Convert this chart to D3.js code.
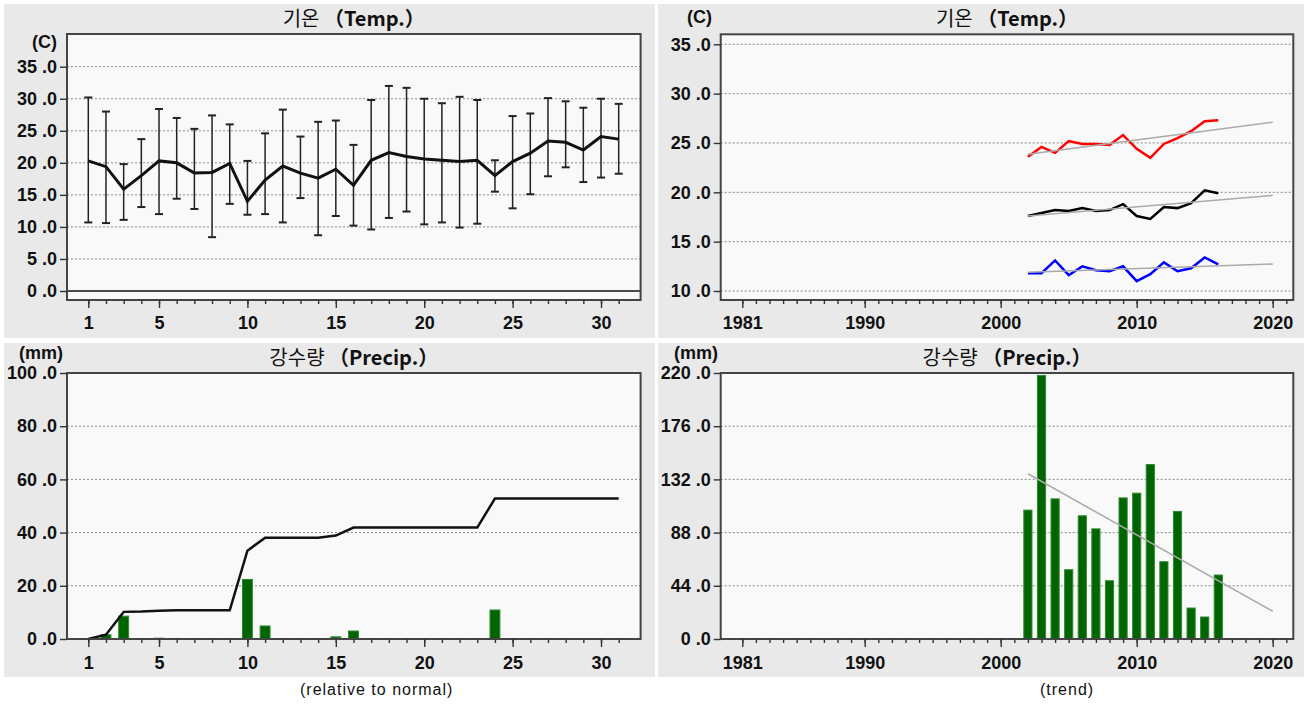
<!DOCTYPE html>
<html>
<head>
<meta charset="utf-8">
<script src="https://cdn.jsdelivr.net/npm/d3@7"></script>
<style>
  body { margin: 0; background: #fff; }
  svg text { font-family: "Liberation Sans", Arial, sans-serif; fill: #111; }
  .tick text { font-weight: bold; font-size: 18px; }
  .tick line { stroke: #333; stroke-width: 1.4; }
</style>
</head>
<body>
<svg width="1308" height="713"></svg>
<script>
// daily values (left panels)
var days = [1,2,3,4,5,6,7,8,9,10,11,12,13,14,15,16,17,18,19,20,21,22,23,24,25,26,27,28,29,30,31];
var tempMean = [20.3,19.4,15.9,18.0,20.3,20.0,18.4,18.5,19.9,14.0,17.3,19.5,18.4,17.6,19.0,16.5,20.4,21.6,21.0,20.6,20.4,20.2,20.4,18.0,20.2,21.5,23.4,23.2,22.0,24.1,23.7];
var tempMax  = [30.2,28.0,19.8,23.7,28.4,27.0,25.3,27.4,26.0,20.3,24.6,28.3,24.1,26.4,26.6,22.8,29.8,32.0,31.7,30.0,29.3,30.3,29.8,20.4,27.3,27.7,30.1,29.6,28.6,30.0,29.2];
var tempMin  = [10.7,10.6,11.1,13.1,12.0,14.4,12.8,8.4,13.6,11.9,12.0,10.7,14.5,8.7,11.7,10.2,9.6,11.4,12.4,10.4,10.7,9.9,10.5,15.5,12.9,15.1,17.9,19.3,17.0,17.7,18.3];
var precipDaily = [0,1.6,8.6,0.1,0.3,0.2,0,0,0,22.4,4.9,0,0,0,0.8,3.0,0,0,0,0,0,0,0,10.9,0,0,0,0,0,0,0];

// yearly values (right panels)
var years = [2002,2003,2004,2005,2006,2007,2008,2009,2010,2011,2012,2013,2014,2015,2016];
var yearMax  = [23.6,24.6,24.0,25.2,24.9,24.9,24.8,25.8,24.4,23.5,24.9,25.5,26.2,27.2,27.3];
var yearMean = [17.6,17.9,18.2,18.1,18.4,18.1,18.2,18.8,17.6,17.3,18.5,18.4,18.9,20.2,19.9];
var yearMin  = [11.8,11.8,13.1,11.6,12.5,12.1,12.0,12.5,11.0,11.7,12.9,12.0,12.3,13.4,12.7];
var yearPrecip = [106.6,218,115.9,57.3,101.9,91.1,48.2,116.7,120.6,144.3,63.9,105.5,25.6,18.2,52.9];

// tick labels
var dayTicks = [1,5,10,15,20,25,30];
var yearTicks = [1981,1990,2000,2010,2020];
var tempTicksL = [0,5,10,15,20,25,30,35];
var tempTicksR = [10,15,20,25,30,35];
var precipTicksL = [0,20,40,60,80,100];
var precipTicksR = [0,44,88,132,176,220];

var svg = d3.select("svg");
var fmt = function(d) { return d3.format(".1f")(d).replace(".", " ."); };

// gray panels
[[4,4],[658,4],[4,343],[658,343]].forEach(function(p) {
    svg.append("rect").attr("x", p[0]).attr("y", p[1])
        .attr("width", p[0] < 100 ? 651 : 646).attr("height", 334)
        .attr("fill", "#e9e9e9");
});

var L = {left: 67, right: 640.6}, R = {left: 720.7, right: 1293.3};
var xDay = d3.scaleLinear().domain([1, 31]).range([88.3, 618.7]);
var xYear = d3.scaleLinear().domain([1981, 2020]).range([742.3, 1272.7]);

function frame(box, top, bottom) {
    svg.append("rect").attr("x", box.left).attr("y", top)
        .attr("width", box.right - box.left).attr("height", bottom - top)
        .attr("fill", "#f9f9f9");
}
function border(box, top, bottom) {
    svg.append("rect").attr("x", box.left).attr("y", top)
        .attr("width", box.right - box.left).attr("height", bottom - top)
        .attr("fill", "none").attr("stroke", "#444").attr("stroke-width", 2);
}
function grid(box, y, vals) {
    svg.append("g").selectAll("line").data(vals).enter().append("line")
        .attr("x1", box.left).attr("x2", box.right)
        .attr("y1", y).attr("y2", y)
        .attr("stroke", "#888").attr("stroke-width", 1)
        .attr("stroke-dasharray", "2,2");
}
function yAxis(box, y, vals) {
    var g = svg.append("g").attr("transform", "translate(" + box.left + ",0)")
        .call(d3.axisLeft(y).tickValues(vals).tickSize(7).tickPadding(3).tickFormat(fmt));
    g.select(".domain").remove();
}
function xAxis(x, bottom, major, minor, pad) {
    var g1 = svg.append("g").attr("transform", "translate(0," + bottom + ")")
        .call(d3.axisBottom(x).tickValues(minor).tickSize(4).tickFormat(""));
    g1.select(".domain").remove();
    var g2 = svg.append("g").attr("transform", "translate(0," + bottom + ")")
        .call(d3.axisBottom(x).tickValues(major).tickSize(8).tickPadding(pad).tickFormat(d3.format("d")));
    g2.select(".domain").remove();
}
function title(box, yb, kor, eng) {
    var t = svg.append("text").attr("x", (box.left + box.right) / 2).attr("y", yb)
        .attr("text-anchor", "middle").style("font-size", "20px")
        .style("font-family", "'Noto Sans CJK KR', sans-serif");
    t.append("tspan").text(kor + " ");
    t.append("tspan").style("font-weight", "bold").text("（" + eng + "）");
}
function unit(xr, yc, s) {
    svg.append("text").attr("x", xr).attr("y", yc).attr("dy", "0.35em")
        .attr("text-anchor", "end").style("font-weight", "bold").style("font-size", "18px")
        .text(s);
}

// ---------- top left: daily temperature ----------
var yTL = d3.scaleLinear().domain([0, 35]).range([291, 66.7]);
frame(L, 34, 300);
grid(L, yTL, [5,10,15,20,25,30,35]);
svg.append("line").attr("x1", L.left).attr("x2", L.right)
    .attr("y1", yTL(0)).attr("y2", yTL(0)).attr("stroke", "#111").attr("stroke-width", 1.5);

var eb = svg.append("g").selectAll("g").data(days).enter().append("g");
eb.append("line")
    .attr("x1", function(d) { return xDay(d); }).attr("x2", function(d) { return xDay(d); })
    .attr("y1", function(d, i) { return yTL(tempMax[i]); })
    .attr("y2", function(d, i) { return yTL(tempMin[i]); })
    .attr("stroke", "#222").attr("stroke-width", 1.5);
eb.append("line")
    .attr("x1", function(d) { return xDay(d) - 4; }).attr("x2", function(d) { return xDay(d) + 4; })
    .attr("y1", function(d, i) { return yTL(tempMax[i]); })
    .attr("y2", function(d, i) { return yTL(tempMax[i]); })
    .attr("stroke", "#222").attr("stroke-width", 2);
eb.append("line")
    .attr("x1", function(d) { return xDay(d) - 4; }).attr("x2", function(d) { return xDay(d) + 4; })
    .attr("y1", function(d, i) { return yTL(tempMin[i]); })
    .attr("y2", function(d, i) { return yTL(tempMin[i]); })
    .attr("stroke", "#222").attr("stroke-width", 2);

svg.append("path").datum(days)
    .attr("d", d3.line().x(function(d) { return xDay(d); })
        .y(function(d, i) { return yTL(tempMean[i]); }))
    .attr("fill", "none").attr("stroke", "#111").attr("stroke-width", 3);
border(L, 34, 300);
yAxis(L, yTL, tempTicksL);
xAxis(xDay, 300, dayTicks, days, 8);
title(L, 26, "기온", "Temp.");
unit(57, 42, "(C)");

// ---------- top right: yearly temperature trend ----------
var yTR = d3.scaleLinear().domain([10, 35]).range([291, 44.3]);
frame(R, 34.3, 300);
grid(R, yTR, tempTicksR);

function trend(xs, ys) {
    var mx = d3.mean(xs), my = d3.mean(ys);
    var b = d3.sum(xs, function(x, i) { return (x - mx) * (ys[i] - my); }) /
            d3.sum(xs, function(x) { return (x - mx) * (x - mx); });
    return function(x) { return my + b * (x - mx); };
}
var trendYears = [years[0], 2020];
[[yearMax, "#ff0000"], [yearMean, "#000000"], [yearMin, "#0000ff"]].forEach(function(s) {
    var f = trend(years, s[0]);
    svg.append("path").datum(years)
        .attr("d", d3.line().x(function(d) { return xYear(d); })
            .y(function(d, i) { return yTR(s[0][i]); }))
        .attr("fill", "none").attr("stroke", s[1]).attr("stroke-width", 2.5);
    svg.append("line")
        .attr("x1", xYear(trendYears[0])).attr("x2", xYear(trendYears[1]))
        .attr("y1", yTR(f(trendYears[0]))).attr("y2", yTR(f(trendYears[1])))
        .attr("stroke", "#aaa").attr("stroke-width", 1.5);
});
border(R, 34.3, 300);
yAxis(R, yTR, tempTicksR);
xAxis(xYear, 300, yearTicks, d3.range(1981, 2022), 8);
title(R, 26, "기온", "Temp.");
unit(712, 17, "(C)");

// ---------- bottom left: daily precipitation ----------
var yBL = d3.scaleLinear().domain([0, 100]).range([639, 373]);
frame(L, 373, 639);
grid(L, yBL, [20,40,60,80]);
var stepD = xDay(2) - xDay(1);
svg.append("g").selectAll("rect").data(days).enter().append("rect")
    .attr("x", function(d) { return xDay(d) - stepD * 0.28; })
    .attr("width", stepD * 0.56)
    .attr("y", function(d, i) { return yBL(precipDaily[i]); })
    .attr("height", function(d, i) { return yBL(0) - yBL(precipDaily[i]); })
    .attr("fill", "#006400").attr("stroke", "#2f8a2f").attr("stroke-width", 1);
var cum = d3.cumsum(precipDaily);
svg.append("path").datum(days)
    .attr("d", d3.line().x(function(d) { return xDay(d); })
        .y(function(d, i) { return yBL(cum[i]); }))
    .attr("fill", "none").attr("stroke", "#111").attr("stroke-width", 2.5);
border(L, 373, 639);
yAxis(L, yBL, precipTicksL);
xAxis(xDay, 639, dayTicks, days, 9);
title(L, 365, "강수량", "Precip.");
unit(63, 353, "(mm)");

// ---------- bottom right: yearly precipitation trend ----------
var yBR = d3.scaleLinear().domain([0, 220]).range([639, 373]);
frame(R, 373, 639);
grid(R, yBR, [44,88,132,176]);
var stepY = xYear(1982) - xYear(1981);
svg.append("g").selectAll("rect").data(years).enter().append("rect")
    .attr("x", function(d) { return xYear(d) - stepY * 0.3; })
    .attr("width", stepY * 0.6)
    .attr("y", function(d, i) { return yBR(yearPrecip[i]); })
    .attr("height", function(d, i) { return yBR(0) - yBR(yearPrecip[i]); })
    .attr("fill", "#006400").attr("stroke", "#2f8a2f").attr("stroke-width", 1);
var fp = trend(years, yearPrecip);
svg.append("line")
    .attr("x1", xYear(trendYears[0])).attr("x2", xYear(trendYears[1]))
    .attr("y1", yBR(fp(trendYears[0]))).attr("y2", yBR(fp(trendYears[1])))
    .attr("stroke", "#aaa").attr("stroke-width", 1.5);
border(R, 373, 639);
yAxis(R, yBR, precipTicksR);
xAxis(xYear, 639, yearTicks, d3.range(1981, 2022), 9);
title(R, 365, "강수량", "Precip.");
unit(718, 353, "(mm)");

// captions
svg.append("text").attr("x", 300).attr("y", 695).style("font-size", "16px")
    .style("letter-spacing", "1px").text("(relative to normal)");
svg.append("text").attr("x", 1040).attr("y", 695).style("font-size", "16px")
    .style("letter-spacing", "1px").text("(trend)");
</script>
</body>
</html>
